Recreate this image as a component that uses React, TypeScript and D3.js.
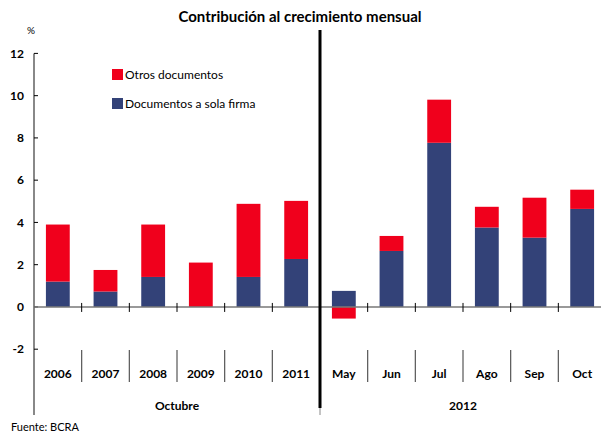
import { useEffect, useRef } from 'react';
import * as d3 from 'd3';

const categories = ['2006', '2007', '2008', '2009', '2010', '2011', 'May', 'Jun', 'Jul', 'Ago', 'Sep', 'Oct'];
const solaFirma = [1.2, 0.73, 1.42, 0, 1.42, 2.27, 0.76, 2.65, 7.77, 3.76, 3.28, 4.64];
const otros = [2.7, 1.02, 2.48, 2.1, 3.46, 2.75, -0.55, 0.71, 2.04, 0.98, 1.89, 0.91];
const yTicks = [-2, 0, 2, 4, 6, 8, 10, 12];
const groups = [
  { label: 'Octubre', from: 0, to: 6 },
  { label: '2012', from: 6, to: 12 },
];

const RED = '#f0001c';
const BLUE = '#334278';
const FONT = 'Lato, "Open Sans", sans-serif';

const App = () => {
  const svgRef = useRef<SVGSVGElement>(null);
  const width = 601;
  const height = 434;

  useEffect(() => {
    const svg = d3.select(svgRef.current);
    svg.selectAll('*').remove();

    const x = d3.scaleBand().domain(categories).range([34, 606]).paddingInner(0.5).paddingOuter(0.25);
    const y = d3.scaleLinear().domain([-2, 12]).range([349.2, 53.4]);
    const step = x.step();
    const edge = (i: number) => 34 + i * step;

    // title
    svg.append('text')
      .attr('x', 300).attr('y', 22)
      .attr('text-anchor', 'middle')
      .attr('font-family', FONT).attr('font-weight', 'bold').attr('font-size', 15)
      .text('Contribución al crecimiento mensual');

    svg.append('text')
      .attr('x', 31).attr('y', 34)
      .attr('text-anchor', 'middle')
      .attr('font-family', FONT).attr('font-size', 10)
      .text('%');

    // bars: blue from 0, red stacked on top (or below 0 when negative)
    const rows = categories.map((c, i) => ({ c, blue: solaFirma[i], red: otros[i] }));
    svg.append('g').selectAll('rect.blue').data(rows).enter().append('rect')
      .attr('x', d => x(d.c)!)
      .attr('width', x.bandwidth())
      .attr('y', d => y(Math.max(0, d.blue)))
      .attr('height', d => Math.abs(y(d.blue) - y(0)))
      .attr('fill', BLUE);

    svg.append('g').selectAll('rect.red').data(rows).enter().append('rect')
      .attr('x', d => x(d.c)!)
      .attr('width', x.bandwidth())
      .attr('y', d => d.red >= 0 ? y(d.blue + d.red) : y(0))
      .attr('height', d => Math.abs(y(d.red) - y(0)))
      .attr('fill', RED);

    // y axis
    svg.append('line')
      .attr('x1', 34).attr('x2', 34).attr('y1', y(12)).attr('y2', 415)
      .attr('stroke', '#888').attr('stroke-width', 2);
    const yt = svg.append('g');
    yTicks.forEach(t => {
      yt.append('line')
        .attr('x1', 34).attr('x2', 38).attr('y1', y(t)).attr('y2', y(t))
        .attr('stroke', '#000').attr('stroke-width', 1);
      yt.append('text')
        .attr('x', 24).attr('y', y(t)).attr('dy', '0.35em')
        .attr('text-anchor', 'end')
        .attr('font-family', FONT).attr('font-weight', 'bold').attr('font-size', 12)
        .text(t);
    });

    // x axis at zero
    svg.append('line')
      .attr('x1', 34).attr('x2', 606).attr('y1', y(0)).attr('y2', y(0))
      .attr('stroke', '#777').attr('stroke-width', 1.5);
    for (let i = 1; i < categories.length; i++) {
      if (i === 6) continue;
      svg.append('line')
        .attr('x1', edge(i)).attr('x2', edge(i)).attr('y1', y(0) - 4).attr('y2', y(0) + 5)
        .attr('stroke', '#000').attr('stroke-width', 1);
    }

    // category labels and separators
    categories.forEach((c, i) => {
      svg.append('text')
        .attr('x', x(c)! + x.bandwidth() / 2).attr('y', 378)
        .attr('text-anchor', 'middle')
        .attr('font-family', FONT).attr('font-weight', 'bold').attr('font-size', 12)
        .text(c);
      if (i > 0 && i !== 6) {
        svg.append('line')
          .attr('x1', edge(i)).attr('x2', edge(i)).attr('y1', 350).attr('y2', 382)
          .attr('stroke', '#555').attr('stroke-width', 1.2);
      }
    });

    groups.forEach(g => {
      svg.append('text')
        .attr('x', (edge(g.from) + edge(g.to)) / 2).attr('y', 410)
        .attr('text-anchor', 'middle')
        .attr('font-family', FONT).attr('font-weight', 'bold').attr('font-size', 12)
        .text(g.label);
    });

    // divider between the two groups
    svg.append('line')
      .attr('x1', edge(6)).attr('x2', edge(6)).attr('y1', 30).attr('y2', 408)
      .attr('stroke', '#000').attr('stroke-width', 3);
    svg.append('line')
      .attr('x1', edge(6)).attr('x2', edge(6)).attr('y1', 408).attr('y2', 415)
      .attr('stroke', '#888').attr('stroke-width', 1);

    // legend
    const legend = [
      { label: 'Otros documentos', color: RED, y: 75 },
      { label: 'Documentos a sola firma', color: BLUE, y: 104 },
    ];
    legend.forEach(l => {
      svg.append('rect')
        .attr('x', 112).attr('y', l.y - 6).attr('width', 11).attr('height', 11)
        .attr('fill', l.color);
      svg.append('text')
        .attr('x', 125).attr('y', l.y).attr('dy', '0.35em')
        .attr('font-family', FONT).attr('font-size', 12)
        .text(l.label);
    });

    svg.append('text')
      .attr('x', 11).attr('y', 431)
      .attr('font-family', FONT).attr('font-size', 11)
      .text('Fuente: BCRA');
  }, []);

  return (
    <svg ref={svgRef} width={width} height={height}
      style={{ position: 'absolute', left: 0, top: 0, background: '#fff' }} />
  );
};

export default App;
